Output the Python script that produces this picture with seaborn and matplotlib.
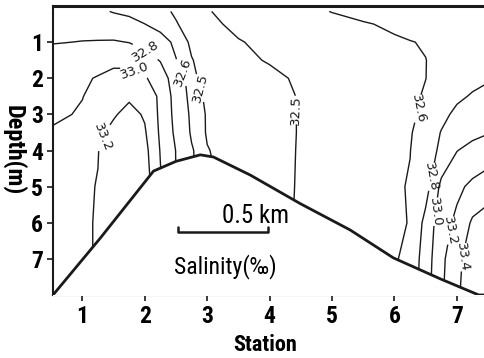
import numpy as np
import seaborn as sns
import matplotlib
matplotlib.use("Agg")
import matplotlib.pyplot as plt
from matplotlib import font_manager

# grid of the salinity section (station x depth)
stations = [0.5, 1.0, 1.25, 1.5, 1.75, 2.0, 2.25, 2.5, 2.75, 3.0, 3.5,
            4.0, 4.5, 5.0, 5.5, 6.0, 6.25, 6.5, 6.75, 7.0, 7.25, 7.5]
depths = [0.15, 0.5, 1, 1.5, 2, 2.5, 3, 3.5, 4, 5, 6, 7, 8]

sal_d00 = [32.70, 32.66, 32.63, 32.59, 32.57, 32.55, 32.52, 32.49, 32.46, 32.495, 32.53,
           32.56, 32.58, 32.602, 32.64, 32.67, 32.68, 32.70, 32.71, 32.72, 32.73, 32.74]
sal_d05 = [32.74, 32.73, 32.71, 32.68, 32.645, 32.601, 32.55, 32.505, 32.47, 32.48, 32.52,
           32.54, 32.56, 32.58, 32.59, 32.62, 32.65, 32.68, 32.70, 32.72, 32.74, 32.75]
sal_d10 = [32.79, 32.805, 32.81, 32.815, 32.795, 32.74, 32.66, 32.57, 32.48, 32.46, 32.495,
           32.52, 32.54, 32.56, 32.57, 32.585, 32.595, 32.61, 32.66, 32.70, 32.73, 32.76]
sal_d15 = [32.88, 32.92, 32.94, 32.96, 32.95, 32.88, 32.79, 32.605, 32.505, 32.46, 32.47,
           32.51, 32.53, 32.55, 32.56, 32.57, 32.58, 32.598, 32.64, 32.68, 32.72, 32.76]
sal_d20 = [32.94, 32.98, 33.01, 33.05, 33.06, 33.02, 32.90, 32.70, 32.53, 32.45, 32.44,
           32.47, 32.52, 32.54, 32.55, 32.56, 32.57, 32.599, 32.64, 32.69, 32.74, 32.78]
sal_d25 = [32.97, 32.995, 33.06, 33.13, 33.17, 33.10, 32.97, 32.72, 32.55, 32.48, 32.43,
           32.45, 32.51, 32.53, 32.54, 32.56, 32.58, 32.61, 32.68, 32.76, 32.82, 32.86]
sal_d30 = [32.96, 33.02, 33.10, 33.18, 33.26, 33.18, 32.96, 32.74, 32.57, 32.49, 32.43,
           32.44, 32.51, 32.53, 32.54, 32.56, 32.585, 32.62, 32.74, 32.85, 32.92, 32.96]
sal_d35 = [33.02, 33.10, 33.16, 33.25, 33.32, 33.22, 32.97, 32.76, 32.58, 32.49, 32.44,
           32.44, 32.51, 32.53, 32.545, 32.56, 32.59, 32.66, 32.81, 32.90, 32.95, 32.99]
sal_d40 = [33.06, 33.15, 33.195, 33.30, 33.34, 33.26, 32.99, 32.795, 32.615, 32.505, 32.45,
           32.45, 32.51, 32.53, 32.55, 32.57, 32.597, 32.70, 32.84, 32.995, 33.06, 33.10]
sal_d50 = [33.10, 33.18, 33.205, 33.30, 33.36, 33.30, 33.02, 32.80, 32.62, 32.52, 32.46,
           32.46, 32.51, 32.53, 32.55, 32.58, 32.61, 32.72, 33.05, 33.16, 33.24, 33.30]
sal_d60 = [33.12, 33.19, 33.205, 33.28, 33.35, 33.30, 33.05, 32.82, 32.64, 32.53, 32.47,
           32.47, 32.51, 32.53, 32.55, 32.58, 32.605, 32.86, 33.12, 33.24, 33.43, 33.50]
sal_d70 = [33.12, 33.18, 33.21, 33.25, 33.30, 33.28, 33.05, 32.82, 32.64, 32.53, 32.47,
           32.47, 32.51, 32.53, 32.55, 32.58, 32.66, 32.90, 33.15, 33.35, 33.50, 33.55]
sal_d80 = [33.12, 33.18, 33.21, 33.25, 33.30, 33.28, 33.05, 32.82, 32.64, 32.53, 32.47,
           32.47, 32.51, 32.53, 32.55, 32.58, 32.68, 32.92, 33.17, 33.37, 33.52, 33.58]

levels = [32.5, 32.6, 32.8, 33.0, 33.2, 33.4]

# bottom profile (sill between the two basins)
bottom_station = [0.53, 1.29, 2.14, 2.5, 2.89, 3.1, 3.69, 4.49, 5.29, 5.98, 6.73, 7.35, 7.5]
bottom_depth = [8.0, 6.42, 4.57, 4.3, 4.12, 4.18, 4.68, 5.47, 6.2, 6.97, 7.55, 8.0, 8.0]

# where the contour labels sit
label_pos = [(2.0, 1.28), (1.8, 1.91), (2.57, 1.86), (2.89, 2.27), (1.32, 3.63),
             (4.41, 2.88), (6.49, 2.88), (6.6, 4.73), (6.68, 5.7), (7.02, 6.25),
             (7.14, 6.97)]

# 0.5 km scale bar
scale_x = [2.54, 2.54, 3.98, 3.98]
scale_y = [6.12, 6.26, 6.26, 6.12]

sns.set_theme(style="ticks")
names = {f.name for f in font_manager.fontManager.ttflist}
narrow = [n for n in ["Liberation Sans Narrow", "Roboto Condensed", "Open Sans Condensed"]
          if n in names]
plt.rcParams["font.family"] = narrow + ["DejaVu Sans"]
plt.rcParams["font.stretch"] = "condensed"
for key in ["text.color", "axes.labelcolor", "xtick.color", "ytick.color",
            "xtick.labelcolor", "ytick.labelcolor"]:
    plt.rcParams[key] = "black"

salinity = np.array([sal_d00, sal_d05, sal_d10, sal_d15, sal_d20, sal_d25, sal_d30,
                     sal_d35, sal_d40, sal_d50, sal_d60, sal_d70, sal_d80])

fig = plt.figure(figsize=(4.85, 3.58), dpi=100)
ax = fig.add_axes([53 / 485, 1 - 295 / 358, 432 / 485, 289 / 358])

cs = ax.contour(stations, depths, salinity, levels=levels, colors="k",
                linewidths=1.0, zorder=2)
ax.clabel(cs, fmt="%.1f", fontsize=9.5, manual=label_pos, inline=True,
          inline_spacing=3)
for t in cs.labelTexts:
    t.set_family("DejaVu Sans")
    t.set_fontstretch("normal")

# bottom: white fill and thick outline
ax.fill_between(bottom_station, bottom_depth, 8.5, color="white", zorder=3)
sns.lineplot(x=bottom_station, y=bottom_depth, color="k", linewidth=2.0,
             ax=ax, zorder=4)

ax.plot(scale_x, scale_y, color="k", linewidth=1.8, zorder=5)
ax.text(3.77, 5.82, "0.5 km", ha="center", va="center", fontsize=18, zorder=5)
ax.text(2.47, 7.22, "Salinity(‰)", ha="left", va="center", fontsize=17, zorder=5)

ax.set_xlim(0.53, 7.45)
ax.set_ylim(8, 0)
ax.set_xticks(range(1, 8))
ax.set_yticks(range(1, 8))
ax.tick_params(direction="out", length=4, width=1.2, color="k", pad=3,
               labelsize=17)
for lab in ax.get_xticklabels() + ax.get_yticklabels():
    lab.set_fontweight("bold")

ax.set_xlabel("Station", fontsize=16, fontweight="bold")
ax.set_ylabel("Depth(m)", fontsize=17.5, fontweight="bold", rotation=270)
ax.xaxis.set_label_coords(0.49, -0.135)
ax.yaxis.set_label_coords(-0.09, 0.5)
ax.yaxis.label.set_va("center")

for side in ["left", "bottom"]:
    ax.spines[side].set_linewidth(1.5)
    ax.spines[side].set_color("k")
ax.spines["top"].set_linewidth(2.2)
ax.spines["top"].set_color("k")
ax.spines["right"].set_visible(False)
ax.set_facecolor("white")

fig.savefig("out.png", dpi=100, facecolor="white")
